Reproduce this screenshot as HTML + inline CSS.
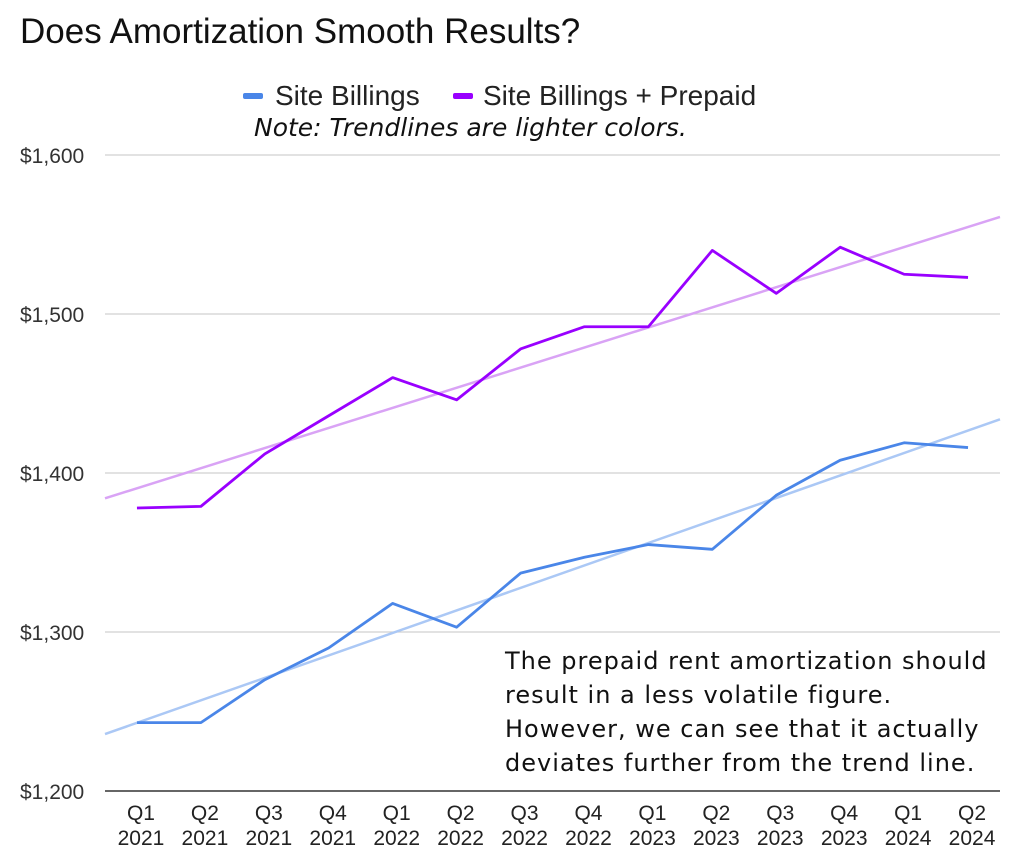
<!DOCTYPE html>
<html><head><meta charset="utf-8"><style>
html,body{margin:0;padding:0;background:#fff;width:1024px;height:863px;overflow:hidden}
svg{display:block;font-family:"Liberation Sans",Arial,sans-serif}
</style></head><body>
<svg id="chart" width="1024" height="863">
<text x="20" y="43" font-size="35" fill="#111">Does Amortization Smooth Results?</text>
<g>
<g><rect x="243" y="93" width="20" height="6" rx="2" fill="#4a86e8"/><text x="275" y="105" font-size="28" fill="#222">Site Billings</text></g>
<g><rect x="453" y="93" width="20" height="6" rx="2" fill="#9900ff"/><text x="483" y="105" font-size="28" fill="#222">Site Billings + Prepaid</text></g>
</g>
<text x="254" y="136" font-size="25" font-style="italic" fill="#111" font-family="DejaVu Sans, sans-serif">Note: Trendlines are lighter colors.</text>
<g id="grid"></g><g id="marks"></g>
<g font-family="DejaVu Sans, sans-serif" font-size="24" letter-spacing="1" fill="#111">
<text x="505" y="669">The prepaid rent amortization should</text>
<text x="505" y="703">result in a less volatile figure.</text>
<text x="505" y="737">However, we can see that it actually</text>
<text x="505" y="771">deviates further from the trend line.</text>
</g>
</svg>
<script>
const quarters=["Q1","Q2","Q3","Q4","Q1","Q2","Q3","Q4","Q1","Q2","Q3","Q4","Q1","Q2"];
const years=["2021","2021","2021","2021","2022","2022","2022","2022","2023","2023","2023","2023","2024","2024"];
const siteBillings=[1243,1243,1270,1290,1318,1303,1337,1347,1355,1352,1386,1408,1419,1416];
const siteBillingsPrepaid=[1378,1379,1412,1436,1460,1446,1478,1492,1492,1540,1513,1542,1525,1523];
const yTicks=[1200,1300,1400,1500,1600];
const yTickLabels=["$1,200","$1,300","$1,400","$1,500","$1,600"];
const NS="http://www.w3.org/2000/svg";
const x0=105,x1=1000;
const step=(x1-x0)/quarters.length;
function xPos(i){return x0+step*(i+0.5);}
function yPos(v){return 791-(v-1200)*(636/400);}
function mk(tag,attrs,parent){const e=document.createElementNS(NS,tag);for(const k in attrs)e.setAttribute(k,attrs[k]);parent.appendChild(e);return e;}
const grid=document.getElementById('grid'),marks=document.getElementById('marks');
yTicks.forEach((t,i)=>{
 const l=mk('line',{x1:x0,x2:x1,y1:yPos(t),y2:yPos(t),stroke:i==0?'#333':'#d0d0d0','stroke-width':i==0?1.5:1.2},grid);
 
 
 const tx=mk('text',{x:20,y:yPos(t)+8,'font-size':21,fill:'#333'},grid);tx.textContent=yTickLabels[i];
 
 
});
quarters.forEach((q,i)=>{
 const t=mk('text',{x:xPos(i)+4,y:820,'font-size':21,fill:'#222','text-anchor':'middle'},grid);t.textContent=q;
 
 
 const t2=mk('text',{x:xPos(i)+4,y:845,'font-size':21,fill:'#222','text-anchor':'middle'},grid);t2.textContent=years[i];
 
 
});
function trend(vals,color,name){
 const n=vals.length;let sx=0,sy=0,sxy=0,sxx=0;
 vals.forEach((v,i)=>{sx+=i;sy+=v;sxy+=i*v;sxx+=i*i;});
 const b=(n*sxy-sx*sy)/(n*sxx-sx*sx),a=(sy-b*sx)/n;
 const ia=-0.5,ib=n-0.5;
 const l=mk('line',{x1:x0,y1:yPos(a+b*ia),x2:x1,y2:yPos(a+b*ib),stroke:color,'stroke-width':2.5},marks);
 
 
}
function series(vals,color,name){
 const p=mk('polyline',{points:vals.map((v,i)=>xPos(i)+','+yPos(v)).join(' '),fill:'none',stroke:color,'stroke-width':2.8,'stroke-linejoin':'round'},marks);
 
 
}
trend(siteBillingsPrepaid,'#d9a3f5','trendline-prepaid');
trend(siteBillings,'#abc8f5','trendline-site-billings');
series(siteBillingsPrepaid,'#9900ff','line-site-billings-prepaid');
series(siteBillings,'#4a86e8','line-site-billings');
</script>
</body></html>
